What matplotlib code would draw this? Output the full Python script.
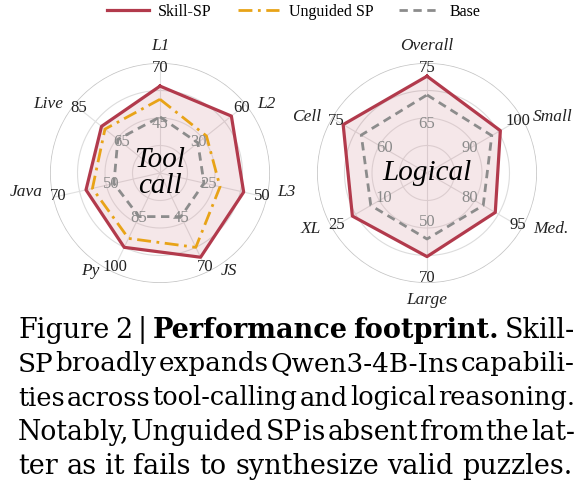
import numpy as np
import matplotlib
matplotlib.use("Agg")
import matplotlib.pyplot as plt
from matplotlib.lines import Line2D

SERIF = ["Liberation Serif", "DejaVu Serif"]
plt.rcParams['font.family'] = SERIF

# ---- data ----
tool_axes = ["L1", "L2", "L3", "JS", "Py", "Java", "Live"]
tool_inner = [45, 30, 25, 45, 85, 50, 65]
tool_outer = [70, 60, 50, 70, 100, 70, 85]
tool_skill = [62, 52.8, 41.5, 65, 94, 59.6, 74.2]
tool_unguided = [56, 35.4, 30.5, 60, 91.3, 57.2, 72.6]
tool_base = [48, 29.4, 23, 44.5, 84.7, 49.2, 66.6]

log_axes = ["Overall", "Small", "Med.", "Large", "XL", "Cell"]
log_inner = [65, 90, 80, 50, 10, 60]
log_outer = [75, 100, 95, 70, 25, 75]
log_skill = [73.6, 96.4, 88, 62.4, 20, 72.9]
log_base = [70.2, 94.6, 84.2, 56, 14.2, 67.2]

C_SKILL = "#b23a4c"
C_UNG = "#e8a317"
C_BASE = "#8c8c8c"
R_IN, R_OUT = 0.45, 0.95

fig = plt.figure(figsize=(5.88, 5.03), dpi=100)


def to_r(vals, inner, outer):
    return [R_IN + (v - a) / (b - a) * (R_OUT - R_IN) for v, a, b in zip(vals, inner, outer)]


def radar(rect, axes_names, inner, outer, series, center):
    ax = fig.add_axes(rect, projection="polar")
    ax.set_theta_zero_location("N")
    ax.set_theta_direction(-1)
    ax.set_ylim(0, 1)
    ax.grid(False)
    ax.set_xticks([]); ax.set_yticks([])
    ax.spines["polar"].set_visible(False)
    n = len(axes_names)
    th = np.arange(n) * 2 * np.pi / n
    circ = np.linspace(0, 2 * np.pi, 300)
    for rr, col, lw in [(0.25, "#e2e2e2", 0.8), (0.5, "#e2e2e2", 0.8), (0.75, "#dcdcdc", 0.8), (1.0, "#c4c4c4", 1.1)]:
        ax.plot(circ, [rr] * len(circ), color=col, lw=lw, zorder=1)
    for t in th:
        ax.plot([t, t], [0, 1], color="#e0e0e0", lw=0.8, zorder=1)
    for vals, col, ls, lw, fill in series:
        r = to_r(vals, inner, outer)
        tt = np.append(th, th[0]); rr = np.append(r, r[0])
        if fill:
            ax.fill(tt, rr, color=col, alpha=0.12, zorder=2, lw=0)
        ax.plot(tt, rr, color=col, ls=ls, lw=lw, zorder=3)
    for t, name, a, b in zip(th, axes_names, inner, outer):
        ax.text(t, R_IN, str(a), color="#8a8a8a", fontsize=12, ha="center", va="center", zorder=4)
        ax.text(t, R_OUT, str(b), color="#222222", fontsize=12, ha="center", va="center", zorder=4)
        s, c = np.sin(t), np.cos(t)
        if abs(s) < 0.2:
            ax.text(t, 1.08, name, fontsize=12.5, style="italic", ha="center",
                    va="bottom" if c > 0 else "top", color="#222222")
        else:
            ax.annotate(name, xy=(t, R_OUT), xytext=(11 if s > 0 else -11, -3 if c < -0.3 else 3),
                        textcoords="offset points", fontsize=12.5, style="italic",
                        ha="left" if s > 0 else "right", va="center", color="#222222")
    ax.text(0, 0, center, fontsize=21, style="italic", ha="center", va="center", linespacing=1.0, zorder=5)
    return ax


W, H = 588, 503
R = 110
radar([(160 - R) / W, (H - 173 - R) / H, 2 * R / W, 2 * R / H], tool_axes, tool_inner, tool_outer,
      [(tool_skill, C_SKILL, "-", 2.3, True), (tool_unguided, C_UNG, (0, (5, 2, 1, 2)), 2.0, False),
       (tool_base, C_BASE, (0, (3, 2)), 2.0, False)], "Tool\ncall")
radar([(427 - R) / W, (H - 173 - R) / H, 2 * R / W, 2 * R / H], log_axes, log_inner, log_outer,
      [(log_skill, C_SKILL, "-", 2.3, True), (log_base, C_BASE, (0, (3, 2)), 2.0, False)], "Logical")

handles = [Line2D([], [], color=C_SKILL, lw=2.3),
           Line2D([], [], color=C_UNG, lw=2.0, ls=(0, (5, 2, 1, 2))),
           Line2D([], [], color=C_BASE, lw=2.0, ls=(0, (3, 2)))]
fig.legend(handles, ["Skill-SP", "Unguided SP", "Base"], loc="center", bbox_to_anchor=(0.5, 1 - 12 / H),
           ncol=3, frameon=False, fontsize=11.5, handlelength=2.6, columnspacing=1.6, handletextpad=0.6)

# ---- caption, justified ----
lines = [
    [("Figure 2 | ", False), ("Performance footprint.", True), (" Skill-", False)],
    [("SP broadly expands Qwen3-4B-Ins capabili-", False)],
    [("ties across tool-calling and logical reasoning.", False)],
    [("Notably, Unguided SP is absent from the lat-", False)],
    [("ter as it fails to synthesize valid puzzles.", False)],
]
justify = [True, True, True, True, False]
x0, x1 = 18, 575
ys = [330, 364, 398, 432, 466]
FS = 19.5
CAP_FONT = ["DejaVu Serif"]
fig.canvas.draw()
rend = fig.canvas.get_renderer()


def wwidth(s, bold):
    t = fig.text(0, 0, s, fontsize=FS, family=CAP_FONT, fontweight="bold" if bold else "normal")
    w = t.get_window_extent(rend).width
    t.remove()
    return w

for parts, just, y in zip(lines, justify, ys):
    words = []
    for s, b in parts:
        for w in s.split(" "):
            if w:
                words.append((w, b))
    widths = [wwidth(w, b) for w, b in words]
    total = sum(widths)
    space = wwidth("a a", False) - wwidth("aa", False)
    sx = 1.0
    if just:
        gap = (x1 - x0 - total) / (len(words) - 1)
    else:
        gap = space
    if gap < 2:
        gap = 2
        sx = (x1 - x0 - gap * (len(words) - 1)) / total
    x = x0
    for (w, b), wd in zip(words, widths):
        fig.text(x / W, 1 - y / H, w, fontsize=FS * sx if sx < 1 else FS, family=CAP_FONT,
                 fontweight="bold" if b else "normal", va="center", ha="left")
        x += wd * sx + gap

fig.savefig("out.png", dpi=100)
